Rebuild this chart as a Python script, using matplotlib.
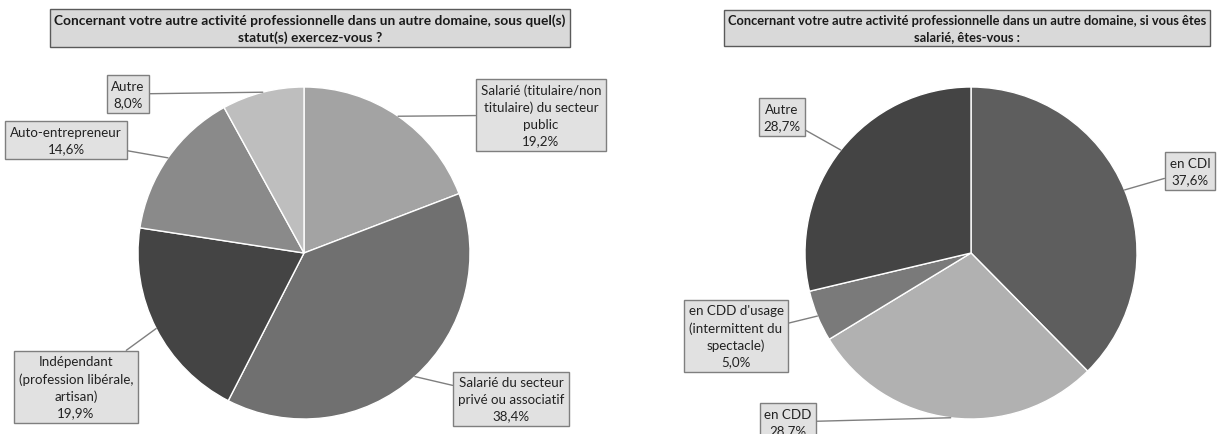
import numpy as np
import matplotlib.pyplot as plt

plt.rcParams['font.family'] = ['Lato', 'DejaVu Sans']

# left pie: statuts
left_title = ("Concernant votre autre activité professionnelle dans un autre domaine, sous quel(s)\n"
              "statut(s) exercez-vous ?")
left_labels = ["Salarié (titulaire/non\ntitulaire) du secteur\npublic",
               "Salarié du secteur\nprivé ou associatif",
               "Indépendant\n(profession libérale,\nartisan)",
               "Auto-entrepreneur",
               "Autre"]
left_values = [19.2, 38.4, 19.9, 14.6, 8.0]
left_colors = ["#a3a3a3", "#707070", "#444444", "#8a8a8a", "#bebebe"]

# right pie: contrats
right_title = ("Concernant votre autre activité professionnelle dans un autre domaine, si vous êtes\n"
               "salarié, êtes-vous :")
right_labels = ["en CDI", "en CDD", "en CDD d'usage\n(intermittent du\nspectacle)", "Autre"]
right_values = [37.6, 28.7, 5.0, 28.7]
right_colors = ["#5e5e5e", "#b1b1b1", "#7a7a7a", "#444444"]

W, H = 1221, 435
fig = plt.figure(figsize=(W / 100, H / 100), dpi=100)
ax = fig.add_axes([0, 0, 1, 1])

R = 166
# (center, title position, label box positions) in pixel coords (y from top)
panels = [
    dict(center=(304, 254), title_xy=(310, 29), title_size=9.9, title=left_title,
         labels=left_labels, values=left_values, colors=left_colors,
         boxes=[(541, 116), (511, 400), (76, 388), (66, 141), (128, 95)]),
    dict(center=(971, 254), title_xy=(967, 29), title_size=9.3, title=right_title,
         labels=right_labels, values=right_values, colors=right_colors,
         boxes=[(1190, 172), (788, 423), (736, 337), (782, 118)]),
]

box_style = dict(boxstyle='square,pad=0.35', fc='#e1e1e1', ec='#7f7f7f', lw=1.0)

for p in panels:
    cx, cy = p['center'][0], H - p['center'][1]
    wedges, _ = ax.pie(p['values'], colors=p['colors'], startangle=90, counterclock=False,
                       center=(cx, cy), radius=R, normalize=True,
                       wedgeprops=dict(edgecolor='white', linewidth=1.0))
    for w, lab, val, (bx, by) in zip(wedges, p['labels'], p['values'], p['boxes']):
        mid = np.deg2rad((w.theta1 + w.theta2) / 2)
        px, py = cx + R * np.cos(mid), cy + R * np.sin(mid)
        txt = f"{lab}\n{val:.1f}%".replace('.', ',')
        ax.annotate(txt, xy=(px, py), xytext=(bx, H - by), ha='center', va='center',
                    fontsize=9.6, color='#222222', linespacing=1.45, bbox=box_style,
                    arrowprops=dict(arrowstyle='-', color='#7f7f7f', lw=1.0,
                                    shrinkA=0, shrinkB=0),
                    annotation_clip=False)
    tx, ty = p['title_xy']
    ax.text(tx, H - ty, p['title'], ha='center', va='center', fontsize=p['title_size'],
            fontweight='bold', color='#1a1a1a', linespacing=1.45,
            bbox=dict(boxstyle='square,pad=0.3', fc='#d9d9d9', ec='#5a5a5a', lw=1.0))

# pie() resets the limits, so set them afterwards
ax.set_xlim(0, W)
ax.set_ylim(0, H)
ax.set_aspect('equal')
ax.axis('off')

fig.savefig('out.png', dpi=100)
